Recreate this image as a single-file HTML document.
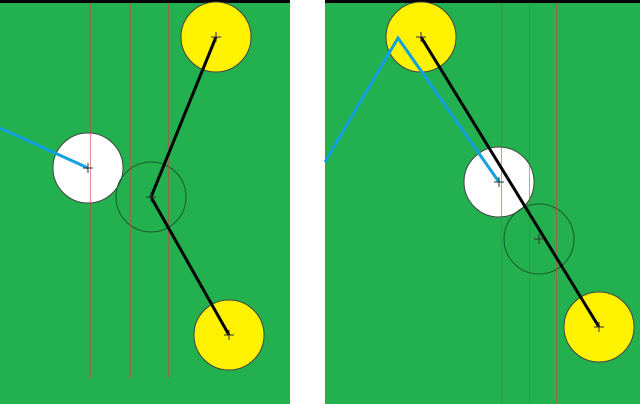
<!DOCTYPE html><html><head><style>body{margin:0;background:#fff}svg{display:block}</style></head><body>
<svg width="640" height="404" xmlns="http://www.w3.org/2000/svg">
<rect x="0" y="0" width="290" height="404" fill="#23b04f"/>
<rect x="325" y="0" width="315" height="404" fill="#23b04f"/>
<rect x="0" y="0" width="290" height="3" fill="#000"/>
<rect x="325" y="0" width="315" height="3" fill="#000"/>
<g stroke="#444" stroke-width="1">
<circle cx="216" cy="37" r="35" fill="#fff200"/>
<circle cx="229" cy="335" r="35" fill="#fff200"/>
<circle cx="88" cy="168" r="35" fill="#fff"/>
<circle cx="151" cy="197" r="35" fill="none" stroke="#1a5a2a"/>
<circle cx="421" cy="37" r="35" fill="#fff200"/>
<circle cx="599" cy="327" r="35" fill="#fff200"/>
<circle cx="499" cy="182" r="35" fill="#fff"/>
<circle cx="539" cy="239" r="35" fill="none" stroke="#1a5a2a"/>
</g>
<g stroke="rgba(215,60,70,0.6)" stroke-width="1">
<line x1="90.5" y1="3" x2="90.5" y2="378"/><line x1="130.5" y1="3" x2="130.5" y2="378"/><line x1="168.5" y1="3" x2="168.5" y2="378"/>
<line x1="501.5" y1="3" x2="501.5" y2="404"/><line x1="529.5" y1="3" x2="529.5" y2="404"/><line x1="556.5" y1="3" x2="556.5" y2="404"/>
</g>
<polyline points="0,128 88,168" fill="none" stroke="#12a0e0" stroke-width="3"/>
<polyline points="325,162 398,38 499,182" fill="none" stroke="#12a0e0" stroke-width="3"/>
<polyline points="216,37 151,197 229,335" fill="none" stroke="#000" stroke-width="3"/>
<polyline points="421,37 599,327" fill="none" stroke="#000" stroke-width="3"/>
<g stroke="#333" stroke-width="1">
<path d="M211 37h10M216 32v10M146 197h10M151 192v10M224 335h10M229 330v10M83 168h10M88 163v10"/>
<path d="M416 37h10M421 32v10M534 239h10M539 234v10M594 327h10M599 322v10M494 182h10M499 177v10"/>
</g>
</svg>
</body></html>
